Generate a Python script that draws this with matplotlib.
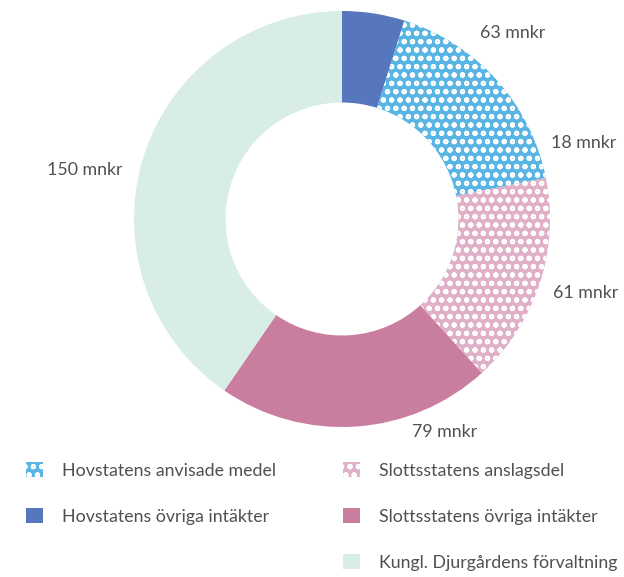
import matplotlib
matplotlib.use("Agg")
import matplotlib.pyplot as plt
from matplotlib.patches import Patch

plt.rcParams['font.family'] = ['Lato', 'DejaVu Sans']
plt.rcParams['hatch.linewidth'] = 1.4

# data (clockwise from 12 o'clock)
names = ['Hovstatens övriga intäkter', 'Hovstatens anvisade medel',
         'Slottsstatens anslagsdel', 'Slottsstatens övriga intäkter',
         'Kungl. Djurgårdens förvaltning']
values = [18, 63, 61, 79, 150]
value_labels = ['18 mnkr', '63 mnkr', '61 mnkr', '79 mnkr', '150 mnkr']

colors = ['#5677BE', '#58B5E4', '#E0B0C8', '#C97E9F', '#D8EDE6']
hatches = [None, 'oo', 'oo', None, None]
# where each value label sits (data units, donut radius = 1)
label_pos = [(1.16, 0.365), (0.82, 0.894), (1.17, -0.356), (0.495, -1.024), (-1.236, 0.236)]

text_color = '#505050'

fig = plt.figure(figsize=(6.24, 5.77), dpi=100)
ax = fig.add_axes([134 / 624, 1 - 427 / 577, 416 / 624, 416 / 577])

wedges, _ = ax.pie(values, colors=colors, startangle=90, counterclock=False,
                   radius=1, wedgeprops=dict(width=0.44, linewidth=0))
for w, h in zip(wedges, hatches):
    if h:
        w.set_hatch(h)
        w.set_edgecolor('white')
        w.set_linewidth(0)

for lab, (x, y) in zip(value_labels, label_pos):
    ax.text(x, y, lab, ha='center', va='center', fontsize=12.8, color=text_color)

ax.set_xlim(-1, 1)
ax.set_ylim(-1, 1)
ax.set_aspect('equal')
ax.axis('off')

# legend: two columns
def handle(i):
    if hatches[i]:
        return Patch(facecolor=colors[i], edgecolor='white', linewidth=0, hatch=hatches[i])
    return Patch(facecolor=colors[i], linewidth=0)

left_idx = [1, 0]
right_idx = [2, 3, 4]
common = dict(loc='upper left', frameon=False, labelcolor=text_color,
              prop=dict(size=12.8),
              handlelength=0.93, handleheight=0.93, handletextpad=1.12,
              labelspacing=1.66, borderpad=0, borderaxespad=0)
leg1 = fig.legend([handle(i) for i in left_idx], [names[i] for i in left_idx],
                  bbox_to_anchor=(26 / 624, 1 - 462 / 577), **common)
leg2 = fig.legend([handle(i) for i in right_idx], [names[i] for i in right_idx],
                  bbox_to_anchor=(343 / 624, 1 - 462 / 577), **common)

fig.savefig('out.png', dpi=100)
